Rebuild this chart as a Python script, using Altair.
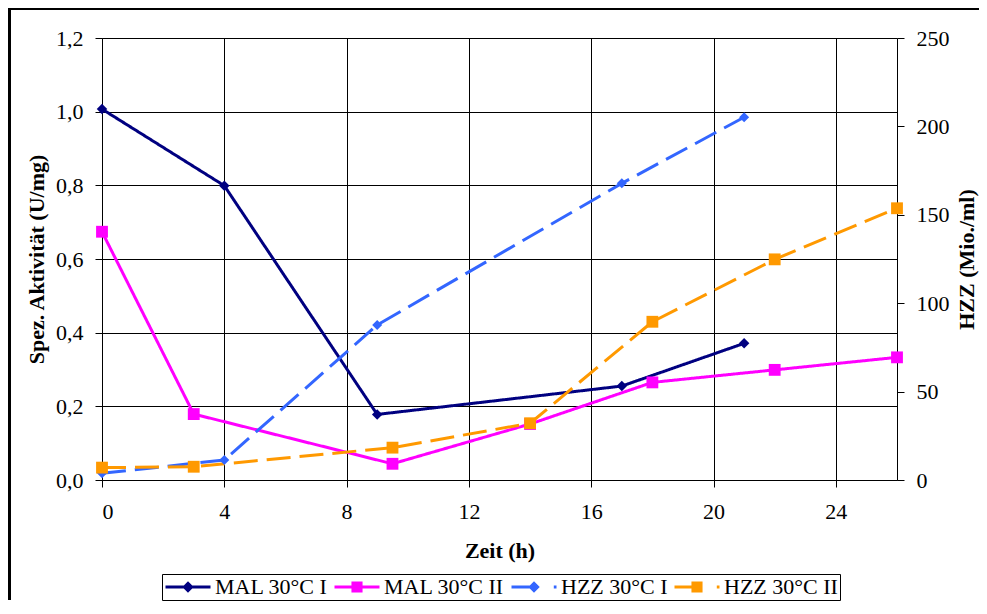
import altair as alt
import pandas as pd

FONT = "Liberation Serif"

series_names = ["MAL 30°C I", "MAL 30°C II", "HZZ 30°C I", "HZZ 30°C II"]
colors = ["#000080", "#FF00FF", "#3366FF", "#FF9900"]

hours_mal1 = [0, 4, 9, 17, 21]
mal1 = [1.007, 0.799, 0.178, 0.255, 0.371]
hours_mal2 = [0, 3, 9.5, 14, 18, 22, 26]
mal2 = [0.674, 0.179, 0.044, 0.152, 0.265, 0.299, 0.333]
hours_hzz1 = [0, 4, 9, 17, 21]
hzz1 = [3.8, 11.3, 87.7, 167.8, 205.2]
hours_hzz2 = [0, 3, 9.5, 14, 18, 22, 26]
hzz2 = [7.0, 7.5, 18.3, 32.1, 89.5, 124.8, 153.7]

x_ticks = [0, 4, 8, 12, 16, 20, 24]
left_ticks = [0, 0.2, 0.4, 0.6, 0.8, 1.0, 1.2]
right_ticks = [0, 50, 100, 150, 200, 250]

rows = []
for name, hs, vs in [(series_names[0], hours_mal1, mal1), (series_names[1], hours_mal2, mal2),
                     (series_names[2], hours_hzz1, hzz1), (series_names[3], hours_hzz2, hzz2)]:
    for h, v in zip(hs, vs):
        rows.append({"series": name, "h": h, "v": v})
df = pd.DataFrame(rows)
left_df = df[df["series"].str.startswith("MAL")]
right_df = df[df["series"].str.startswith("HZZ")]

# plot scales use reversed domain order so their (hidden) legends do not merge with the visible one
rev_names = list(reversed(series_names))
rev_colors = list(reversed(colors))
dashes = [[1, 0], [1, 0], [24, 9], [24, 9]]
rev_dashes = list(reversed(dashes))

x_enc = alt.X("h:Q", scale=alt.Scale(domain=[0, 26], nice=False, zero=False),
              axis=alt.Axis(values=x_ticks, title="Zeit (h)", grid=True, tickSize=7,
                            labelPadding=14, titlePadding=18, titleFontWeight="bold",
                            format="d"))
color_enc = alt.Color("series:N", scale=alt.Scale(domain=rev_names, range=rev_colors), legend=None)
dash_enc = alt.StrokeDash("series:N", scale=alt.Scale(domain=rev_names, range=rev_dashes),
                          legend=None)

y_left = alt.Y("v:Q", scale=alt.Scale(domain=[0, 1.2], nice=False),
               axis=alt.Axis(values=left_ticks, title="Spez. Aktivität (U/mg)", grid=True,
                             tickSize=7, labelPadding=12, titlePadding=7, titleFontWeight="bold",
                             labelExpr="replace(format(datum.value, '.1f'), '.', ',')"))
y_right = alt.Y("v:Q", scale=alt.Scale(domain=[0, 250], nice=False),
                axis=alt.Axis(values=right_ticks, title="HZZ (Mio./ml)", orient="right", grid=False,
                              tickSize=7, labelPadding=12, titlePadding=7, titleFontWeight="bold",
                              titleAngle=270, titleBaseline="top"))

def series_points(data, y_enc, name, shape, size):
    return alt.Chart(data).mark_point(filled=True, opacity=1, shape=shape, size=size).encode(
        x=x_enc, y=y_enc, color=color_enc).transform_filter(alt.datum.series == name)

line_L = alt.Chart(left_df).mark_line(strokeWidth=3).encode(x=x_enc, y=y_left, color=color_enc,
                                                              strokeDash=dash_enc)
left_layer = alt.layer(
    line_L,
    series_points(left_df, y_left, series_names[0], "diamond", 110),
    series_points(left_df, y_left, series_names[1], "square", 140),
)
line_R = alt.Chart(right_df).mark_line(strokeWidth=3).encode(x=x_enc, y=y_right, color=color_enc,
                                                               strokeDash=dash_enc)
right_layer = alt.layer(
    line_R,
    series_points(right_df, y_right, series_names[2], "diamond", 100),
    series_points(right_df, y_right, series_names[3], "square", 140),
)

legend_paths = [
    "M-1,0L1,0M-0.16,0L0,-0.16L0.16,0L0,0.16Z",
    "M-1,0L1,0M-0.18,-0.18L0.18,-0.18L0.18,0.18L-0.18,0.18Z",
    "M-1,0L-0.1,0M0.88,0L1,0M-0.16,0L0,-0.16L0.16,0L0,0.16Z",
    "M-1,0L-0.1,0M0.88,0L1,0M-0.18,-0.18L0.18,-0.18L0.18,0.18L-0.18,0.18Z",
]
leg = alt.Legend(title=None, orient="none", legendX=60, legendY=536, direction="horizontal",
                 symbolSize=2025, symbolStrokeWidth=3, symbolOpacity=1, clipHeight=22,
                 labelFont=FONT, labelFontSize=22, labelColor="black",
                 strokeColor="black", padding=2, columnPadding=5, labelOffset=3)
legend_df = pd.DataFrame({"series": series_names})
legend_layer = alt.Chart(legend_df).mark_point(filled=True, strokeWidth=3, opacity=1).encode(
    x=alt.value(-3000), y=alt.value(-3000),
    shape=alt.Shape("series:N", scale=alt.Scale(domain=series_names, range=legend_paths), legend=leg),
    fill=alt.Fill("series:N", scale=alt.Scale(domain=series_names, range=colors), legend=leg),
    stroke=alt.Stroke("series:N", scale=alt.Scale(domain=series_names, range=colors), legend=leg),
)

frame_data = alt.Data(values=[{"a": 1}])
frame_left = alt.Chart(frame_data).mark_rect(color="black").encode(
    x=alt.value(-94), x2=alt.value(-91), y=alt.value(-31), y2=alt.value(562))
frame_top = alt.Chart(frame_data).mark_rect(color="black").encode(
    x=alt.value(-94), x2=alt.value(877), y=alt.value(-31), y2=alt.value(-28))

chart = alt.layer(frame_left, frame_top, left_layer, right_layer, legend_layer).resolve_scale(
    y="independent").properties(
    width=795, height=442,
    autosize=alt.AutoSizeParams(type="none"),
    padding={"left": 94, "top": 30, "right": 82, "bottom": 122},
).configure_view(stroke=None).configure_axis(
    labelFont=FONT, titleFont=FONT, labelFontSize=22, titleFontSize=22,
    labelColor="black", titleColor="black", domainColor="black", tickColor="black",
    gridColor="black", gridOpacity=1, gridWidth=1, domainWidth=1, tickWidth=1,
)

chart.save("out.html", embed_options={"renderer": "svg", "actions": False})
